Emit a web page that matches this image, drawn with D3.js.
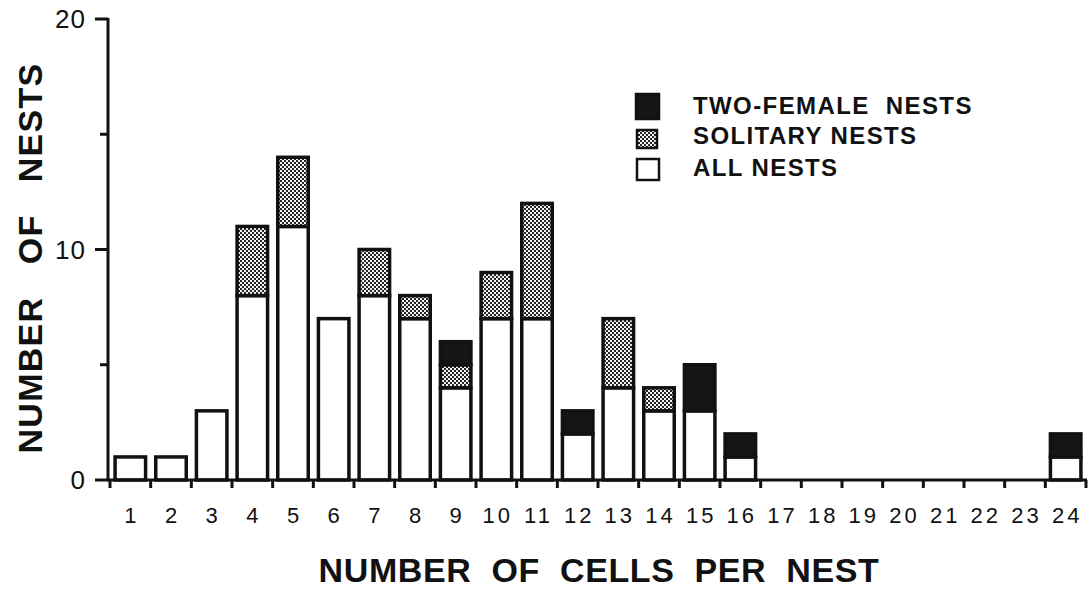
<!DOCTYPE html>
<html>
<head>
<meta charset="utf-8">
<script src="https://cdn.jsdelivr.net/npm/d3@7"></script>
<style>
  html, body { margin: 0; padding: 0; background: #fff; }
  svg { display: block; }
  text { font-family: "Liberation Sans", Arial, Helvetica, sans-serif; fill: #111; }
</style>
</head>
<body>
<script>
// ---- data ----
const categories = ["1","2","3","4","5","6","7","8","9","10","11","12","13","14","15","16","17","18","19","20","21","22","23","24"];
const allNests   = [1,1,3,8,11,7,8,7,4,7,7,2,4,3,3,1,0,0,0,0,0,0,0,1];
const solitary   = [0,0,0,3,3,0,2,1,1,2,5,0,3,1,0,0,0,0,0,0,0,0,0,0];
const twoFemale  = [0,0,0,0,0,0,0,0,1,0,0,1,0,0,2,1,0,0,0,0,0,0,0,1];
const seriesKeys = ["all","solitary","two"];
const legendLabels = ["TWO-FEMALE  NESTS","SOLITARY NESTS","ALL NESTS"];
const yTicks = [0,5,10,15,20];
const yLabelTicks = [0,10,20];

const W = 1091, H = 589;
const svg = d3.select("body").append("svg").attr("width", W).attr("height", H);

const defs = svg.append("defs");
const pat = defs.append("pattern").attr("id","stip").attr("patternUnits","userSpaceOnUse")
  .attr("width",4).attr("height",4);
pat.append("rect").attr("width",4).attr("height",4).attr("fill","#fff");
pat.append("circle").attr("cx",1).attr("cy",1).attr("r",1.15).attr("fill","#1a1a1a");
pat.append("circle").attr("cx",3).attr("cy",3).attr("r",1.15).attr("fill","#1a1a1a");

const fills = { all: "#fff", solitary: "url(#stip)", two: "#151515" };

const x = d3.scaleBand().domain(categories).range([110, 1086]).paddingInner(0.25).paddingOuter(0.125);
const y = d3.scaleLinear().domain([0,20]).range([480, 19]);

const table = categories.map((c,i) => ({cat:c, all:allNests[i], solitary:solitary[i], two:twoFemale[i]}));
const stacked = d3.stack().keys(seriesKeys)(table);

// bars
const g = svg.append("g");
stacked.forEach(layer => {
  g.selectAll(null).data(layer.filter(d => d[1] - d[0] > 0)).enter().append("rect")
    .attr("x", d => x(d.data.cat))
    .attr("width", x.bandwidth())
    .attr("y", d => y(d[1]))
    .attr("height", d => y(d[0]) - y(d[1]))
    .attr("fill", fills[layer.key])
    .attr("stroke", "#111")
    .attr("stroke-width", 3.5);
});

// y axis
const yAxis = svg.append("g").attr("transform","translate(108,0)");
yAxis.append("line").attr("x1",0).attr("x2",0).attr("y1",y(20)-1).attr("y2",y(0)+1)
  .attr("stroke","#111").attr("stroke-width",3);
yAxis.selectAll(".t").data(yTicks).enter().append("line")
  .attr("x1", d => yLabelTicks.includes(d) ? -13 : -8).attr("x2",0)
  .attr("y1", d => y(d)).attr("y2", d => y(d))
  .attr("stroke","#111").attr("stroke-width",3);
yAxis.selectAll(".l").data(yLabelTicks).enter().append("text")
  .attr("x",-22).attr("y", d => y(d)).attr("dy","0.36em")
  .attr("text-anchor","end").attr("font-size",26).attr("letter-spacing",1).text(d => d);

// x axis
const xAxis = svg.append("g");
xAxis.append("line").attr("x1",107).attr("x2",1087).attr("y1",y(0)).attr("y2",y(0))
  .attr("stroke","#111").attr("stroke-width",3);
const step = x.step();
const tickPos = d3.range(categories.length + 1).map(k => x(categories[0]) - x.paddingOuter()*step + k*step);
xAxis.selectAll(".t").data(tickPos).enter().append("line")
  .attr("x1", d => d).attr("x2", d => d).attr("y1", y(0)).attr("y2", y(0)+8)
  .attr("stroke","#111").attr("stroke-width",3);
xAxis.selectAll(".l").data(categories).enter().append("text")
  .attr("x", d => x(d) + x.bandwidth()/2 + 1.5).attr("y", 523)
  .attr("text-anchor","middle").attr("font-size",22).attr("letter-spacing", 3)
  .text(d => d);

// axis titles
svg.append("text").attr("x",599).attr("y",582).attr("text-anchor","middle")
  .attr("font-size",34).attr("font-weight","bold").attr("letter-spacing",0.6)
  .attr("xml:space","preserve")
  .text("NUMBER  OF  CELLS  PER  NEST");
svg.append("text").attr("transform","translate(42,258) rotate(-90)")
  .attr("text-anchor","middle").attr("font-size",34).attr("font-weight","bold").attr("letter-spacing",1.3)
  .attr("xml:space","preserve")
  .text("NUMBER   OF   NESTS");

// legend
const legKeys = ["two","solitary","all"];
const legBoxes = [[636,94,23,25],[637,130,20,18],[637,159,22,21]];
const legTextY = [105,135,167];
const leg = svg.append("g");
legKeys.forEach((k,i) => {
  const b = legBoxes[i];
  leg.append("rect").attr("x",b[0]).attr("y",b[1]).attr("width",b[2]).attr("height",b[3])
    .attr("fill",fills[k]).attr("stroke","#111").attr("stroke-width",2.5);
  leg.append("text").attr("x",693).attr("y",legTextY[i]).attr("dy","0.36em")
    .attr("xml:space","preserve")
    .attr("font-size",24).attr("font-weight","bold").attr("letter-spacing",1.4).text(legendLabels[i]);
});
</script>
</body>
</html>
